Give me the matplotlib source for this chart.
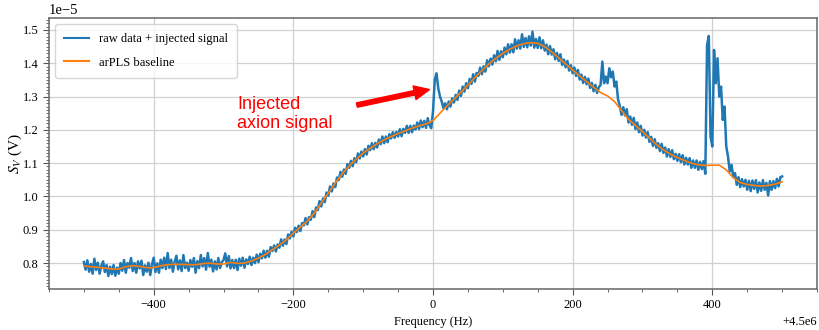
import numpy as np
import matplotlib
matplotlib.use('Agg')
import matplotlib.pyplot as plt
from matplotlib.ticker import MultipleLocator

plt.rcParams['font.family'] = 'serif'
plt.rcParams['font.serif'] = ['Liberation Serif', 'DejaVu Serif']
plt.rcParams['mathtext.fontset'] = 'stix'

f0 = 4.5e6
scale = 1e-5

# arPLS baseline, every 10 Hz (units of 1e-5 V)
base_hz = np.arange(-500, 501, 10)
baseline = [0.791, 0.789, 0.787, 0.785, 0.782, 0.782, 0.789, 0.792, 0.790, 0.786,
            0.786, 0.792, 0.795, 0.796, 0.796, 0.795, 0.795, 0.798, 0.800, 0.797,
            0.797, 0.802, 0.799, 0.800, 0.806, 0.815, 0.826, 0.840, 0.854, 0.870,
            0.890, 0.908, 0.926, 0.950, 0.980, 1.010, 1.040, 1.068, 1.092, 1.112,
            1.130, 1.145, 1.158, 1.170, 1.180, 1.189, 1.197, 1.205, 1.212, 1.218,
            1.228, 1.250, 1.272, 1.292, 1.313, 1.335, 1.357, 1.378, 1.398, 1.415,
            1.430, 1.442, 1.452, 1.459, 1.462, 1.460, 1.450, 1.434, 1.416, 1.398,
            1.380, 1.362, 1.345, 1.328, 1.312, 1.302, 1.285, 1.258, 1.232, 1.213,
            1.195, 1.175, 1.156, 1.140, 1.127, 1.117, 1.108, 1.100, 1.095, 1.093,
            1.094, 1.094, 1.080, 1.056, 1.042, 1.036, 1.033, 1.031, 1.033, 1.037,
            1.044]

# raw data + injected signal, every 2.5 Hz (one row = 50 Hz)
raw_hz = np.arange(-500, 500.1, 2.5)
raw = [
    0.803, 0.780, 0.808, 0.774, 0.797, 0.768, 0.813, 0.779, 0.801, 0.768, 0.791, 0.805, 0.773, 0.794, 0.761, 0.789, 0.767, 0.794, 0.762, 0.786,
    0.768, 0.800, 0.777, 0.809, 0.771, 0.800, 0.786, 0.815, 0.776, 0.800, 0.771, 0.805, 0.784, 0.807, 0.764, 0.793, 0.774, 0.801, 0.764, 0.796,
    0.816, 0.773, 0.799, 0.771, 0.810, 0.785, 0.816, 0.782, 0.830, 0.785, 0.810, 0.774, 0.804, 0.822, 0.781, 0.808, 0.776, 0.824, 0.785, 0.801,
    0.777, 0.809, 0.789, 0.815, 0.771, 0.806, 0.785, 0.824, 0.790, 0.815, 0.780, 0.830, 0.789, 0.810, 0.775, 0.805, 0.781, 0.815, 0.785, 0.803,
    0.809, 0.829, 0.790, 0.821, 0.784, 0.809, 0.785, 0.810, 0.779, 0.813, 0.792, 0.816, 0.786, 0.811, 0.797, 0.819, 0.794, 0.816, 0.800, 0.825,
    0.803, 0.828, 0.814, 0.837, 0.816, 0.837, 0.819, 0.848, 0.836, 0.853, 0.835, 0.856, 0.846, 0.871, 0.852, 0.871, 0.857, 0.886, 0.874, 0.894,
    0.880, 0.906, 0.893, 0.912, 0.896, 0.920, 0.913, 0.935, 0.916, 0.938, 0.930, 0.956, 0.938, 0.967, 0.959, 0.986, 0.970, 0.994, 0.983, 1.012,
    1.002, 1.030, 1.015, 1.039, 1.028, 1.057, 1.049, 1.074, 1.059, 1.081, 1.068, 1.097, 1.086, 1.107, 1.091, 1.115, 1.103, 1.129, 1.114, 1.135,
    1.120, 1.142, 1.126, 1.152, 1.139, 1.160, 1.142, 1.161, 1.147, 1.171, 1.157, 1.180, 1.160, 1.180, 1.163, 1.187, 1.174, 1.193, 1.176, 1.194,
    1.180, 1.202, 1.181, 1.203, 1.191, 1.212, 1.191, 1.212, 1.193, 1.213, 1.201, 1.222, 1.202, 1.228, 1.208, 1.227, 1.206, 1.235, 1.214, 1.205,
    1.255, 1.350, 1.370, 1.325, 1.300, 1.285, 1.265, 1.280, 1.262, 1.285, 1.270, 1.295, 1.282, 1.305, 1.290, 1.318, 1.302, 1.330, 1.315, 1.340,
    1.325, 1.353, 1.338, 1.367, 1.345, 1.371, 1.362, 1.387, 1.367, 1.391, 1.375, 1.409, 1.391, 1.414, 1.396, 1.424, 1.406, 1.437, 1.410, 1.436,
    1.418, 1.447, 1.427, 1.457, 1.432, 1.457, 1.433, 1.472, 1.444, 1.469, 1.444, 1.487, 1.449, 1.476, 1.448, 1.481, 1.453, 1.495, 1.447, 1.473,
    1.446, 1.478, 1.445, 1.469, 1.438, 1.456, 1.427, 1.452, 1.426, 1.442, 1.412, 1.431, 1.407, 1.427, 1.395, 1.411, 1.388, 1.407, 1.378, 1.394,
    1.370, 1.387, 1.362, 1.380, 1.351, 1.366, 1.341, 1.359, 1.337, 1.354, 1.326, 1.341, 1.316, 1.335, 1.311, 1.328, 1.335, 1.405, 1.340, 1.360,
    1.340, 1.385, 1.358, 1.375, 1.330, 1.345, 1.292, 1.272, 1.245, 1.268, 1.243, 1.262, 1.222, 1.240, 1.215, 1.236, 1.202, 1.222, 1.193, 1.212,
    1.183, 1.200, 1.177, 1.193, 1.164, 1.179, 1.152, 1.172, 1.146, 1.160, 1.136, 1.158, 1.131, 1.147, 1.120, 1.142, 1.119, 1.139, 1.112, 1.128,
    1.107, 1.127, 1.103, 1.124, 1.096, 1.116, 1.096, 1.115, 1.086, 1.108, 1.086, 1.108, 1.080, 1.104, 1.082, 1.106, 1.068, 1.455, 1.482, 1.180,
    1.150, 1.440, 1.340, 1.415, 1.300, 1.330, 1.230, 1.270, 1.150, 1.120, 1.075, 1.095, 1.060, 1.070, 1.035, 1.058, 1.028, 1.052, 1.030, 1.050,
    1.020, 1.047, 1.016, 1.048, 1.023, 1.049, 1.012, 1.042, 1.017, 1.049, 1.020, 1.041, 1.003, 1.046, 1.020, 1.046, 1.025, 1.053, 1.030, 1.058,
    1.060]

fig = plt.figure(figsize=(8.19, 3.30), dpi=100)
ax = fig.add_axes([0.0598, 0.1242, 0.9378, 0.8213])

ax.plot(raw_hz + f0, np.array(raw) * scale, color='#1f77b4', lw=1.8,
        label='raw data + injected signal')
ax.plot(base_hz + f0, np.array(baseline) * scale, color='#ff7f0e', lw=1.2,
        label='arPLS baseline')

ax.set_xlim(f0 - 550, f0 + 550)
ax.set_ylim(0.722e-5, 1.536e-5)
ax.xaxis.set_major_locator(MultipleLocator(200))
ax.xaxis.set_minor_locator(MultipleLocator(50))
ax.yaxis.set_major_locator(MultipleLocator(0.1e-5))
ax.yaxis.set_minor_locator(MultipleLocator(0.01e-5))
ax.tick_params(which='major', labelsize=9, length=4, color='#555555')
ax.tick_params(which='minor', length=2, color='#555555')
ax.xaxis.get_offset_text().set_fontsize(9)
ax.yaxis.get_offset_text().set_fontsize(10.5)

ax.grid(True, which='major', color='#d0d0d0', lw=0.9)
for s in ax.spines.values():
    s.set_color('#666666')
    s.set_linewidth(1.1)

ax.set_xlabel('Frequency (Hz)', fontsize=9, labelpad=3)
ax.set_ylabel('$S_V$ (V)', fontsize=11, labelpad=-1)

leg = ax.legend(loc='upper left', fontsize=9, labelspacing=0.95, borderpad=0.7,
                edgecolor='#cccccc', fancybox=True)
for h in leg.get_lines():
    h.set_linewidth(1.5)

ax.text(f0 - 280, 1.302e-5, 'Injected\naxion signal', color='red', fontsize=13,
        family='Liberation Sans', ha='left', va='top')
ax.annotate('', xy=(f0 - 5, 1.321e-5), xytext=(f0 - 109, 1.2745e-5),
            arrowprops=dict(facecolor='red', edgecolor='red', width=3.2,
                            headwidth=10, headlength=11))

fig.savefig('out.png', dpi=100)
